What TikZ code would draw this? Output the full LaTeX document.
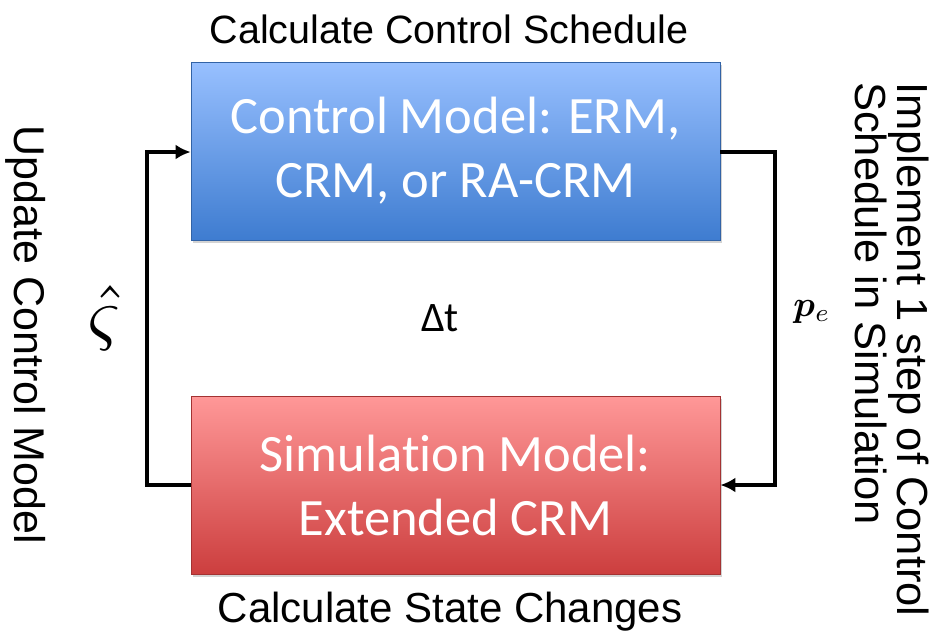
\documentclass[tikz,border=0pt]{standalone}
\usepackage{amsmath,amssymb,bm}
\usepackage{fontspec}
\setmainfont{Liberation Sans}
\newfontfamily\boxfont[Ligatures=NoCommon]{Carlito}
\usetikzlibrary{arrows.meta,shadows}
\definecolor{bluetop}{RGB}{152,192,255}
\definecolor{bluebot}{RGB}{62,124,208}
\definecolor{redtop}{RGB}{255,152,152}
\definecolor{redbot}{RGB}{204,62,62}
\tikzset{
  modelbox/.style={minimum width=529pt, minimum height=178pt, inner sep=0pt,
    text=white, align=center, font=\boxfont\fontsize{52.5}{64}\selectfont,
    drop shadow={shadow xshift=2pt, shadow yshift=-3pt, opacity=0.35}},
  bluebox/.style={modelbox, top color=bluetop, bottom color=bluebot, draw=bluebot!80!black, line width=0.8pt},
  redbox/.style={modelbox, top color=redtop, bottom color=redbot, draw=redbot!80!black, line width=0.8pt},
  label/.style={inner sep=0pt},
  flow/.style={line width=4.5pt, -{Latex[length=15pt,width=15pt]}},
}
\begin{document}
\begin{tikzpicture}[x=1pt,y=-1pt]
\useasboundingbox (0,0) rectangle (949,632);
\node[bluebox] (ctrl) at (455.5,151) {Control Model: ERM,\\CRM, or RA-CRM};
\node[redbox] (sim) at (455.5,485) {Simulation Model:\\Extended CRM};
\node[label, font=\fontsize{39.5}{44}\selectfont] (top) at (449,29) {Calculate Control Schedule};
\node[label, font=\fontsize{42}{46}\selectfont] (bot) at (450,612) {Calculate State Changes};
\node[label, rotate=-90, font=\fontsize{43}{46}\selectfont] (left) at (26,335) {Update Control Model};
\node[label, rotate=-90, anchor=north west, align=left, font=\fontsize{43.5}{36}\selectfont] (right) at (929,82) {Implement 1 step of Control\\Schedule in Simulation};
\node[label, font=\boxfont\fontsize{42}{46}\selectfont] (dt) at (440,318) {Δt};
\node[label, xscale=7.2, yscale=8.2] (vs) at (104,318) {$\hat{\varsigma}$};
\node[label, scale=3.6] (pe) at (812,312) {$\bm{p}_e$};
\coordinate (lb) at (147,485);
\coordinate (lt) at (147,152);
\coordinate (rt) at (775,152);
\coordinate (rb) at (775,485);
\draw[flow] (sim.west |- lb) -- (lb) -- (lt) -- (ctrl.west |- lt);
\draw[flow] (ctrl.east |- rt) -- (rt) -- (rb) -- (sim.east |- rb);
\end{tikzpicture}
\end{document}
